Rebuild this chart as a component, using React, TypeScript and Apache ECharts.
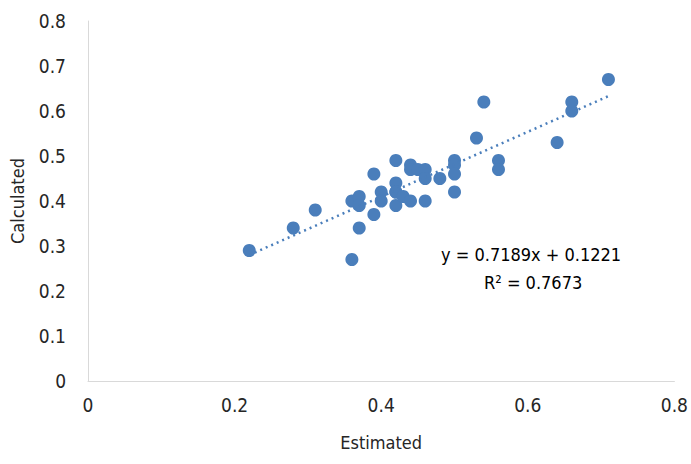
import React, { useEffect, useRef } from 'react';
import * as echarts from 'echarts';

const estimated = [0.22, 0.28, 0.31, 0.36, 0.36, 0.37, 0.37, 0.37, 0.39, 0.39, 0.40, 0.40, 0.42, 0.42, 0.42, 0.42, 0.42, 0.43, 0.44, 0.44, 0.44, 0.45, 0.46, 0.46, 0.46, 0.48, 0.50, 0.50, 0.50, 0.50, 0.53, 0.54, 0.56, 0.56, 0.64, 0.66, 0.66, 0.71];
const calculated = [0.29, 0.34, 0.38, 0.40, 0.27, 0.41, 0.39, 0.34, 0.46, 0.37, 0.42, 0.40, 0.49, 0.44, 0.42, 0.42, 0.39, 0.41, 0.48, 0.47, 0.40, 0.47, 0.47, 0.45, 0.40, 0.45, 0.49, 0.48, 0.46, 0.42, 0.54, 0.62, 0.49, 0.47, 0.53, 0.62, 0.60, 0.67];
const trendX = [0.22, 0.71];
const trendY = [0.28, 0.633];

const font = '"DejaVu Sans Condensed", "Open Sans", sans-serif';

export default function App() {
  const ref = useRef<HTMLDivElement>(null);
  useEffect(() => {
    if (!ref.current) return;
    const chart = echarts.init(ref.current, undefined, { renderer: 'svg' });
    chart.setOption({
      animation: false,
      grid: { left: 83, right: 2, top: 21, bottom: 83 },
      xAxis: {
        type: 'value', min: 0, max: 0.8, interval: 0.2,
        name: 'Estimated', nameLocation: 'middle', nameGap: 52,
        nameTextStyle: { fontSize: 18, color: '#262626', fontFamily: font },
        axisLine: { show: true, lineStyle: { color: '#d9d9d9' } },
        axisTick: { show: false },
        axisLabel: { fontSize: 19, color: '#262626', fontFamily: font, margin: 14 },
        splitLine: { show: false },
      },
      yAxis: {
        type: 'value', min: 0, max: 0.8, interval: 0.1,
        name: 'Calculated', nameLocation: 'middle', nameGap: 62,
        nameTextStyle: { fontSize: 18, color: '#262626', fontFamily: font },
        axisLine: { show: true, lineStyle: { color: '#d9d9d9' } },
        axisTick: { show: false },
        axisLabel: { fontSize: 19, color: '#262626', fontFamily: font, margin: 22 },
        splitLine: { show: false },
      },
      series: [
        {
          type: 'scatter', symbolSize: 13,
          itemStyle: { color: '#4a7ebb', opacity: 1 },
          data: estimated.map((x, i) => [x, calculated[i]]),
        },
        {
          type: 'line', symbol: 'none',
          lineStyle: { color: '#4a7ebb', width: 2.5, type: [2, 4] },
          data: trendX.map((x, i) => [x, trendY[i]]),
        },
      ],
      graphic: [
        { type: 'text', left: 441, top: 245, style: { text: 'y = 0.7189x + 0.1221', fontSize: 18, fill: '#000', fontFamily: font } },
        { type: 'text', left: 484, top: 273, style: { text: 'R² = 0.7673', fontSize: 18, fill: '#000', fontFamily: font } },
      ],
    });
    return () => chart.dispose();
  }, []);
  return <div ref={ref} style={{ position: 'absolute', left: 0, top: 0, width: 691, height: 464 }} />;
}
